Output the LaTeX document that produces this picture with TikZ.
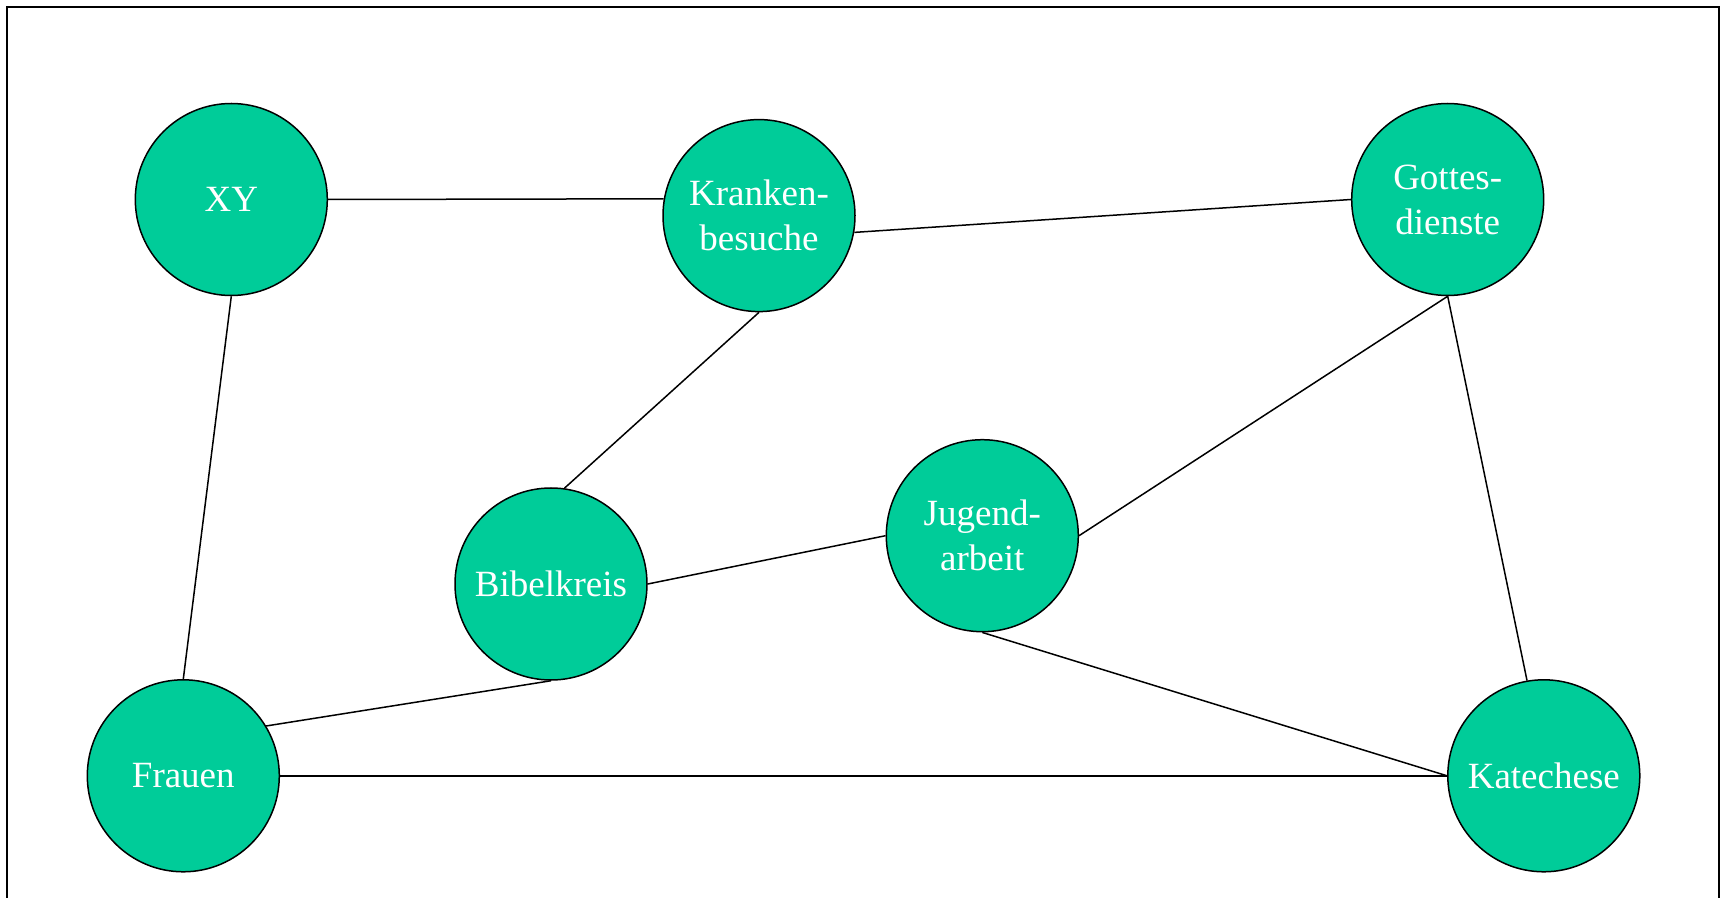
\documentclass[tikz,border=0pt]{standalone}
\usepackage{fontspec}
\setmainfont{Liberation Serif}
\definecolor{nodegreen}{HTML}{00CC99}
\begin{document}
\begin{tikzpicture}[x=0.5pt,y=-0.5pt,
  topic/.style={circle, draw=black, line width=0.75pt, fill=nodegreen, text=white,
    minimum size=96pt, inner sep=0pt, align=center,
    font=\fontsize{18.5pt}{22.5pt}\selectfont},
  link/.style={draw=black, line width=0.75pt}]
\useasboundingbox (0,0) rectangle (1725,898);
\draw[line width=1pt] (7,960) -- (7,7) -- (1719,7) -- (1719,960);
\node[topic] (xy) at (231.3,199.5) {XY};
\node[topic] (kb) at (759,215.6) {Kranken-\\besuche};
\node[topic] (gd) at (1447.7,199.5) {Gottes-\\dienste};
\node[topic] (bk) at (551,584) {Bibelkreis};
\node[topic] (ja) at (982.3,535.7) {Jugend-\\arbeit};
\node[topic] (fr) at (183.3,775.8) {Frauen};
\node[topic] (ka) at (1543.8,775.8) {Katechese};
\draw[link] (xy.east) -- (kb.170.5);
\draw[link] (kb.350) -- (gd.west);
\draw[link] (kb.south) -- (bk.82);
\draw[link] (bk.east) -- (ja.west);
\draw[link] (ja.east) -- (gd.south);
\draw[link] (gd.south) -- (ka.100);
\draw[link] (ja.south) -- (ka.west);
\draw[link] (fr.east) -- (ka.west);
\draw[link] (fr.31) -- (bk.south);
\draw[link] (xy.south) -- (fr.north);
\end{tikzpicture}
\end{document}
